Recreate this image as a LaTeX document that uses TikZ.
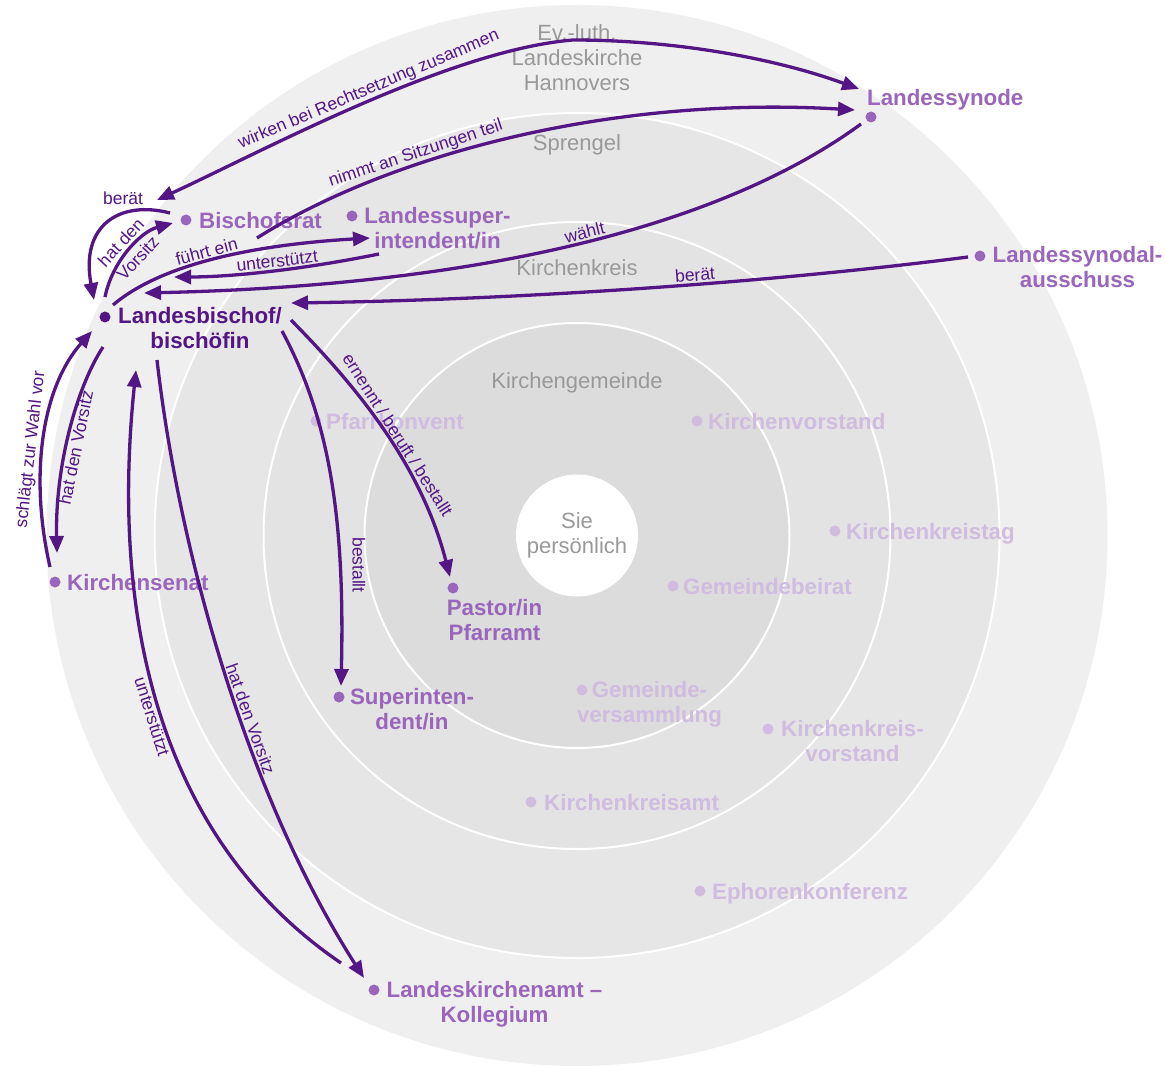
\documentclass[tikz,border=0pt]{standalone}
\usepackage{fontspec}
\setmainfont{Liberation Sans}
\usetikzlibrary{arrows.meta}
\definecolor{dpurple}{RGB}{84,22,132}
\definecolor{mpurple}{RGB}{153,102,187}
\definecolor{lpurple}{RGB}{207,188,223}
\definecolor{graytext}{RGB}{153,153,153}
\definecolor{ringA}{RGB}{239,239,239}
\definecolor{ringB}{RGB}{230,230,230}
\definecolor{ringC}{RGB}{227,227,227}
\definecolor{ringD}{RGB}{220,220,220}
\tikzset{
  conn/.style={draw=dpurple, line width=3.3pt, -{Triangle[length=17pt,width=14pt]}},
  conntwo/.style={draw=dpurple, line width=3.3pt, {Triangle[length=17pt,width=14pt]}-{Triangle[length=17pt,width=14pt]}},
  elabel/.style={text=dpurple, font=\fontsize{17.5}{20}\selectfont, inner sep=1.5pt},
  txt/.style={inner sep=0pt, align=center, font=\fontsize{22.3}{25}\selectfont\bfseries, execute at begin node={\rule{0pt}{16.5pt}}},
  ringlabel/.style={inner sep=0pt, align=center, text=graytext, font=\fontsize{22}{25}\selectfont, execute at begin node={\rule{0pt}{16.5pt}}},
  mtxt/.style={txt, text=mpurple},
  ltxt/.style={txt, text=lpurple},
  dtxt/.style={txt, text=dpurple},
  dotm/.style={circle, fill=mpurple, inner sep=0pt, minimum size=11pt},
  dotl/.style={circle, fill=lpurple, inner sep=0pt, minimum size=11pt},
  dotd/.style={circle, fill=dpurple, inner sep=0pt, minimum size=11pt},
  ringsep/.style={draw=white, line width=2pt}
}
\begin{document}
\begin{tikzpicture}[x=1pt,y=-1pt]
\useasboundingbox (0,0) rectangle (1165,1067);
\fill[white] (0,0) rectangle (1165,1067);
\coordinate (ctr) at (577,535.5);
% rings
\fill[ringA] (ctr) circle[radius=530.5pt];
\path[fill=ringB, ringsep] (ctr) circle[radius=422.5pt];
\path[fill=ringC, ringsep] (ctr) circle[radius=313.5pt];
\path[fill=ringD, ringsep] (ctr) circle[radius=212.5pt];
\fill[white] (ctr) circle[radius=61pt];
% ring labels
\node[ringlabel, anchor=north] (r1) at (577,24.5) {Ev.-luth.\\Landeskirche\\Hannovers};
\node[ringlabel, anchor=north] (r2) at (577,133.5) {Sprengel};
\node[ringlabel, anchor=north] (r3) at (577,258.5) {Kirchenkreis};
\node[ringlabel, anchor=north] (r4) at (577,371.5) {Kirchengemeinde};
\node[ringlabel, anchor=north] (r5) at (577,512.5) {Sie\\persönlich};
% light nodes
\node[dotl] (pk) at (316,421) {};
\node[ltxt, anchor=north west] (pkt) at (326,412.5) {Pfarrkonvent};
\node[dotl] (kv) at (697,421) {};
\node[ltxt, anchor=north west] (kvt) at (708,412.5) {Kirchenvorstand};
\node[dotl] (kkt) at (835,531) {};
\node[ltxt, anchor=north west] (kktt) at (846,522.5) {Kirchenkreistag};
\node[dotl] (gb) at (673,586) {};
\node[ltxt, anchor=north west] (gbt) at (683,577.5) {Gemeindebeirat};
\node[dotl] (gv) at (582,690) {};
\node[ltxt, anchor=north] (gvt) at (649.5,681.5) {Gemeinde-\\versammlung};
\node[dotl] (kkv) at (768,729) {};
\node[ltxt, anchor=north] (kkvt) at (852.5,720.5) {Kirchenkreis-\\vorstand};
\node[dotl] (kka) at (531,802) {};
\node[ltxt, anchor=north west] (kkat) at (544,793.5) {Kirchenkreisamt};
\node[dotl] (eph) at (700,891) {};
\node[ltxt, anchor=north west] (epht) at (712,882.5) {Ephorenkonferenz};
% medium nodes
\node[dotm] (br) at (186,220) {};
\node[mtxt, anchor=north west] (brt) at (199,211.5) {Bischofsrat};
\node[dotm] (lsi) at (352,216) {};
\node[mtxt, anchor=north] (lsit) at (437.5,207.5) {Landessuper-\\intendent/in};
\node[dotm] (syn) at (871,117) {};
\node[mtxt, anchor=north west] (synt) at (867,88.5) {Landessynode};
\node[dotm] (sya) at (980,256) {};
\node[mtxt, anchor=north] (syat) at (1077.5,246.5) {Landessynodal-\\ausschuss};
\node[dotm] (ks) at (55,582) {};
\node[mtxt, anchor=north west] (kst) at (67,573.5) {Kirchensenat};
\node[dotm] (pa) at (453,588) {};
\node[mtxt, anchor=north] (pat) at (494.5,599.5) {Pastor/in\\Pfarramt};
\node[dotm] (su) at (339,697) {};
\node[mtxt, anchor=north] (sut) at (412,688.5) {Superinten-\\dent/in};
\node[dotm] (lka) at (374,990) {};
\node[mtxt, anchor=north] (lkat) at (494.5,981.5) {Landeskirchenamt –\\Kollegium};
% bishop
\node[dotd] (lb) at (105,317) {};
\node[dtxt, anchor=north] (lbt) at (200,307.5) {Landesbischof/\\bischöfin};
% connector end points
\coordinate (wA) at (157,200);
\coordinate (wM) at (573,40);
\coordinate (wB) at (859,89);
\coordinate (nA) at (257,238);
\coordinate (nB) at (855,110);
\coordinate (waA) at (861,124);
\coordinate (waB) at (144,293);
\coordinate (bsA) at (968,257);
\coordinate (bsB) at (291,303);
\coordinate (usA) at (379,254);
\coordinate (usB) at (174,277);
\coordinate (feA) at (113,305);
\coordinate (feB) at (370,238);
\coordinate (hvA) at (105,297);
\coordinate (hvB) at (173,223);
\coordinate (brA) at (170,213);
\coordinate (brB) at (94,300);
\coordinate (swA) at (50,567);
\coordinate (swB) at (92,331);
\coordinate (hsA) at (103,347);
\coordinate (hsB) at (57,553);
\coordinate (ukA) at (341,963);
\coordinate (ukB) at (136,370);
\coordinate (hkA) at (157,360);
\coordinate (hkB) at (364,978);
\coordinate (beA) at (282,331);
\coordinate (beB) at (341,686);
\coordinate (erA) at (291,320);
\coordinate (erB) at (450,577);
% connectors
\draw[conntwo] (wA) .. controls (265,150) and (450,50) .. (wM)
  node[elabel, sloped, above=-1pt, pos=0.53] (lw) {wirken bei Rechtsetzung zusammen}
  .. controls (680,40) and (780,60) .. (wB);
\draw[conn] (nA) .. controls (380,160) and (600,95) .. (nB)
  node[elabel, sloped, above=-1pt, pos=0.35] (ln) {nimmt an Sitzungen teil};
\draw[conn] (waA) .. controls (730,220) and (500,285) .. (waB)
  node[elabel, sloped, above, pos=0.5] (lwa) {wählt};
\draw[conn] (bsA) .. controls (750,285) and (500,300) .. (bsB)
  node[elabel, sloped, above, pos=0.4] (lbs) {berät};
\draw[conn] (usA) .. controls (300,270) and (230,277) .. (usB)
  node[elabel, sloped, above, pos=0.45] (lus) {unterstützt};
\draw[conn] (feA) .. controls (160,265) and (250,245) .. (feB)
  node[elabel, sloped, above, pos=0.48] (lfe) {führt ein};
\draw[conn] (hvA) .. controls (112,262) and (140,232) .. (hvB)
  node[elabel, sloped, pos=0.5, align=center, font=\fontsize{17.5}{23}\selectfont] (lhv) {hat den\\Vorsitz};
\draw[conn] (brA) .. controls (120,200) and (80,225) .. (brB);
\node[elabel] (lbr) at (123,198) {berät};
\draw[conn] (swA) .. controls (30,480) and (40,390) .. (swB)
  node[elabel, sloped, above, pos=0.45] (lsw) {schlägt zur Wahl vor};
\draw[conn] (hsA) .. controls (75,390) and (55,470) .. (hsB)
  node[elabel, sloped, below, pos=0.55] (lhs) {hat den Vorsitz};
\draw[conn] (ukA) .. controls (160,840) and (110,620) .. (ukB)
  node[elabel, sloped, below, pos=0.5] (luk) {unterstützt};
\draw[conn] (hkA) .. controls (180,560) and (250,800) .. (hkB)
  node[elabel, sloped, above, pos=0.57] (lhk) {hat den Vorsitz};
\draw[conn] (beA) .. controls (330,420) and (345,520) .. (beB);
\node[elabel, rotate=-90] (lbe) at (359,565) {bestallt};
\draw[conn] (erA) .. controls (350,380) and (420,460) .. (erB)
  node[elabel, sloped, above, pos=0.55] (ler) {ernennt / beruft / bestallt};
\end{tikzpicture}
\end{document}
